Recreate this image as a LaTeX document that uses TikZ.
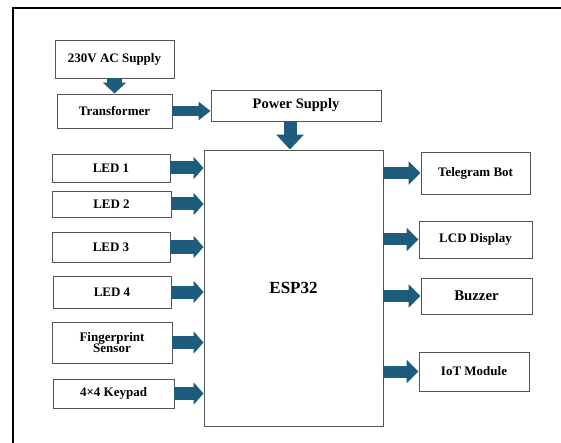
\documentclass[tikz,border=0pt]{standalone}
\usepackage{fontspec}
\setmainfont{Liberation Serif}
\usetikzlibrary{arrows.meta}
\definecolor{arrowc}{RGB}{30,92,125}
\definecolor{boxc}{RGB}{85,85,85}
\tikzset{
  blk/.style={draw=boxc, line width=0.95pt, fill=white, inner sep=0pt, align=center,
    font=\bfseries\fontsize{13}{11.7}\selectfont},
  fatin/.style={draw=arrowc, line width=13pt, -{Triangle[width=22pt,length=10pt]}},
  fatout/.style={draw=arrowc, line width=12pt, -{Triangle[width=23pt,length=12pt]}},
}
\begin{document}
\begin{tikzpicture}[x=1pt,y=-1pt]
\useasboundingbox (0,0) rectangle (561,443);
\clip (0,0) rectangle (561,443);
\fill[white] (0,0) rectangle (561,443);
% outer frame
\coordinate (fb) at (13,450);
\coordinate (fc) at (13,8);
\coordinate (fr) at (570,8);
\draw[line width=2.6pt, black] (fb) -- (fc) -- (fr);

\node[blk, minimum width=119pt, minimum height=38pt] (ac) at (114.5,59) {230V AC Supply};
\node[blk, minimum width=115pt, minimum height=34pt] (tr) at (114.5,111) {Transformer};
\node[blk, minimum width=170pt, minimum height=31pt, font=\bfseries\fontsize{14.5}{16}\selectfont] (ps) at (296,105.5) {Power Supply};
\node[blk, minimum width=179pt, minimum height=276pt, font=\bfseries\fontsize{17}{19}\selectfont] (esp) at (293.5,288) {ESP32};

\node[blk, minimum width=118pt, minimum height=28pt] (led1) at (111,168) {LED 1};
\node[blk, minimum width=119pt, minimum height=26pt] (led2) at (111.5,204) {LED 2};
\node[blk, minimum width=118pt, minimum height=30pt] (led3) at (111,247) {LED 3};
\node[blk, minimum width=118pt, minimum height=32pt] (led4) at (112,292) {LED 4};
\node[blk, minimum width=120pt, minimum height=41pt] (fp) at (112,342.5) {Fingerprint\\Sensor};
\node[blk, minimum width=121pt, minimum height=29pt] (kp) at (113.5,393.5) {4×4 Keypad};

\node[blk, minimum width=109pt, minimum height=42pt] (tg) at (475.5,173) {Telegram Bot};
\node[blk, minimum width=113pt, minimum height=37pt] (lcd) at (475.5,239.5) {LCD Display};
\node[blk, minimum width=111pt, minimum height=36pt, font=\bfseries\fontsize{14.8}{16}\selectfont] (bz) at (476.5,296) {Buzzer};
\node[blk, minimum width=110pt, minimum height=39pt] (iot) at (474,371.5) {IoT Module};

% power chain
\draw[draw=arrowc, line width=15pt, -{Triangle[width=23pt,length=11pt]}] (ac.south) -- (tr.north);
\draw[draw=arrowc, line width=10pt, -{Triangle[width=18pt,length=12pt]}] (tr.east) -- (ps.west |- tr.east);
\draw[draw=arrowc, line width=13pt, -{Triangle[width=27pt,length=15pt]}] ([xshift=-6pt]ps.south) -- ([xshift=-6pt]ps.south |- esp.north);

% inputs
\foreach \n in {led1,led2,led3,led4,fp,kp}
  \draw[fatin] (\n.east) -- (esp.west |- \n.east);

% outputs
\foreach \n in {tg,lcd,bz,iot}
  \draw[fatout] (esp.east |- \n.west) -- (\n.west);
\end{tikzpicture}
\end{document}
